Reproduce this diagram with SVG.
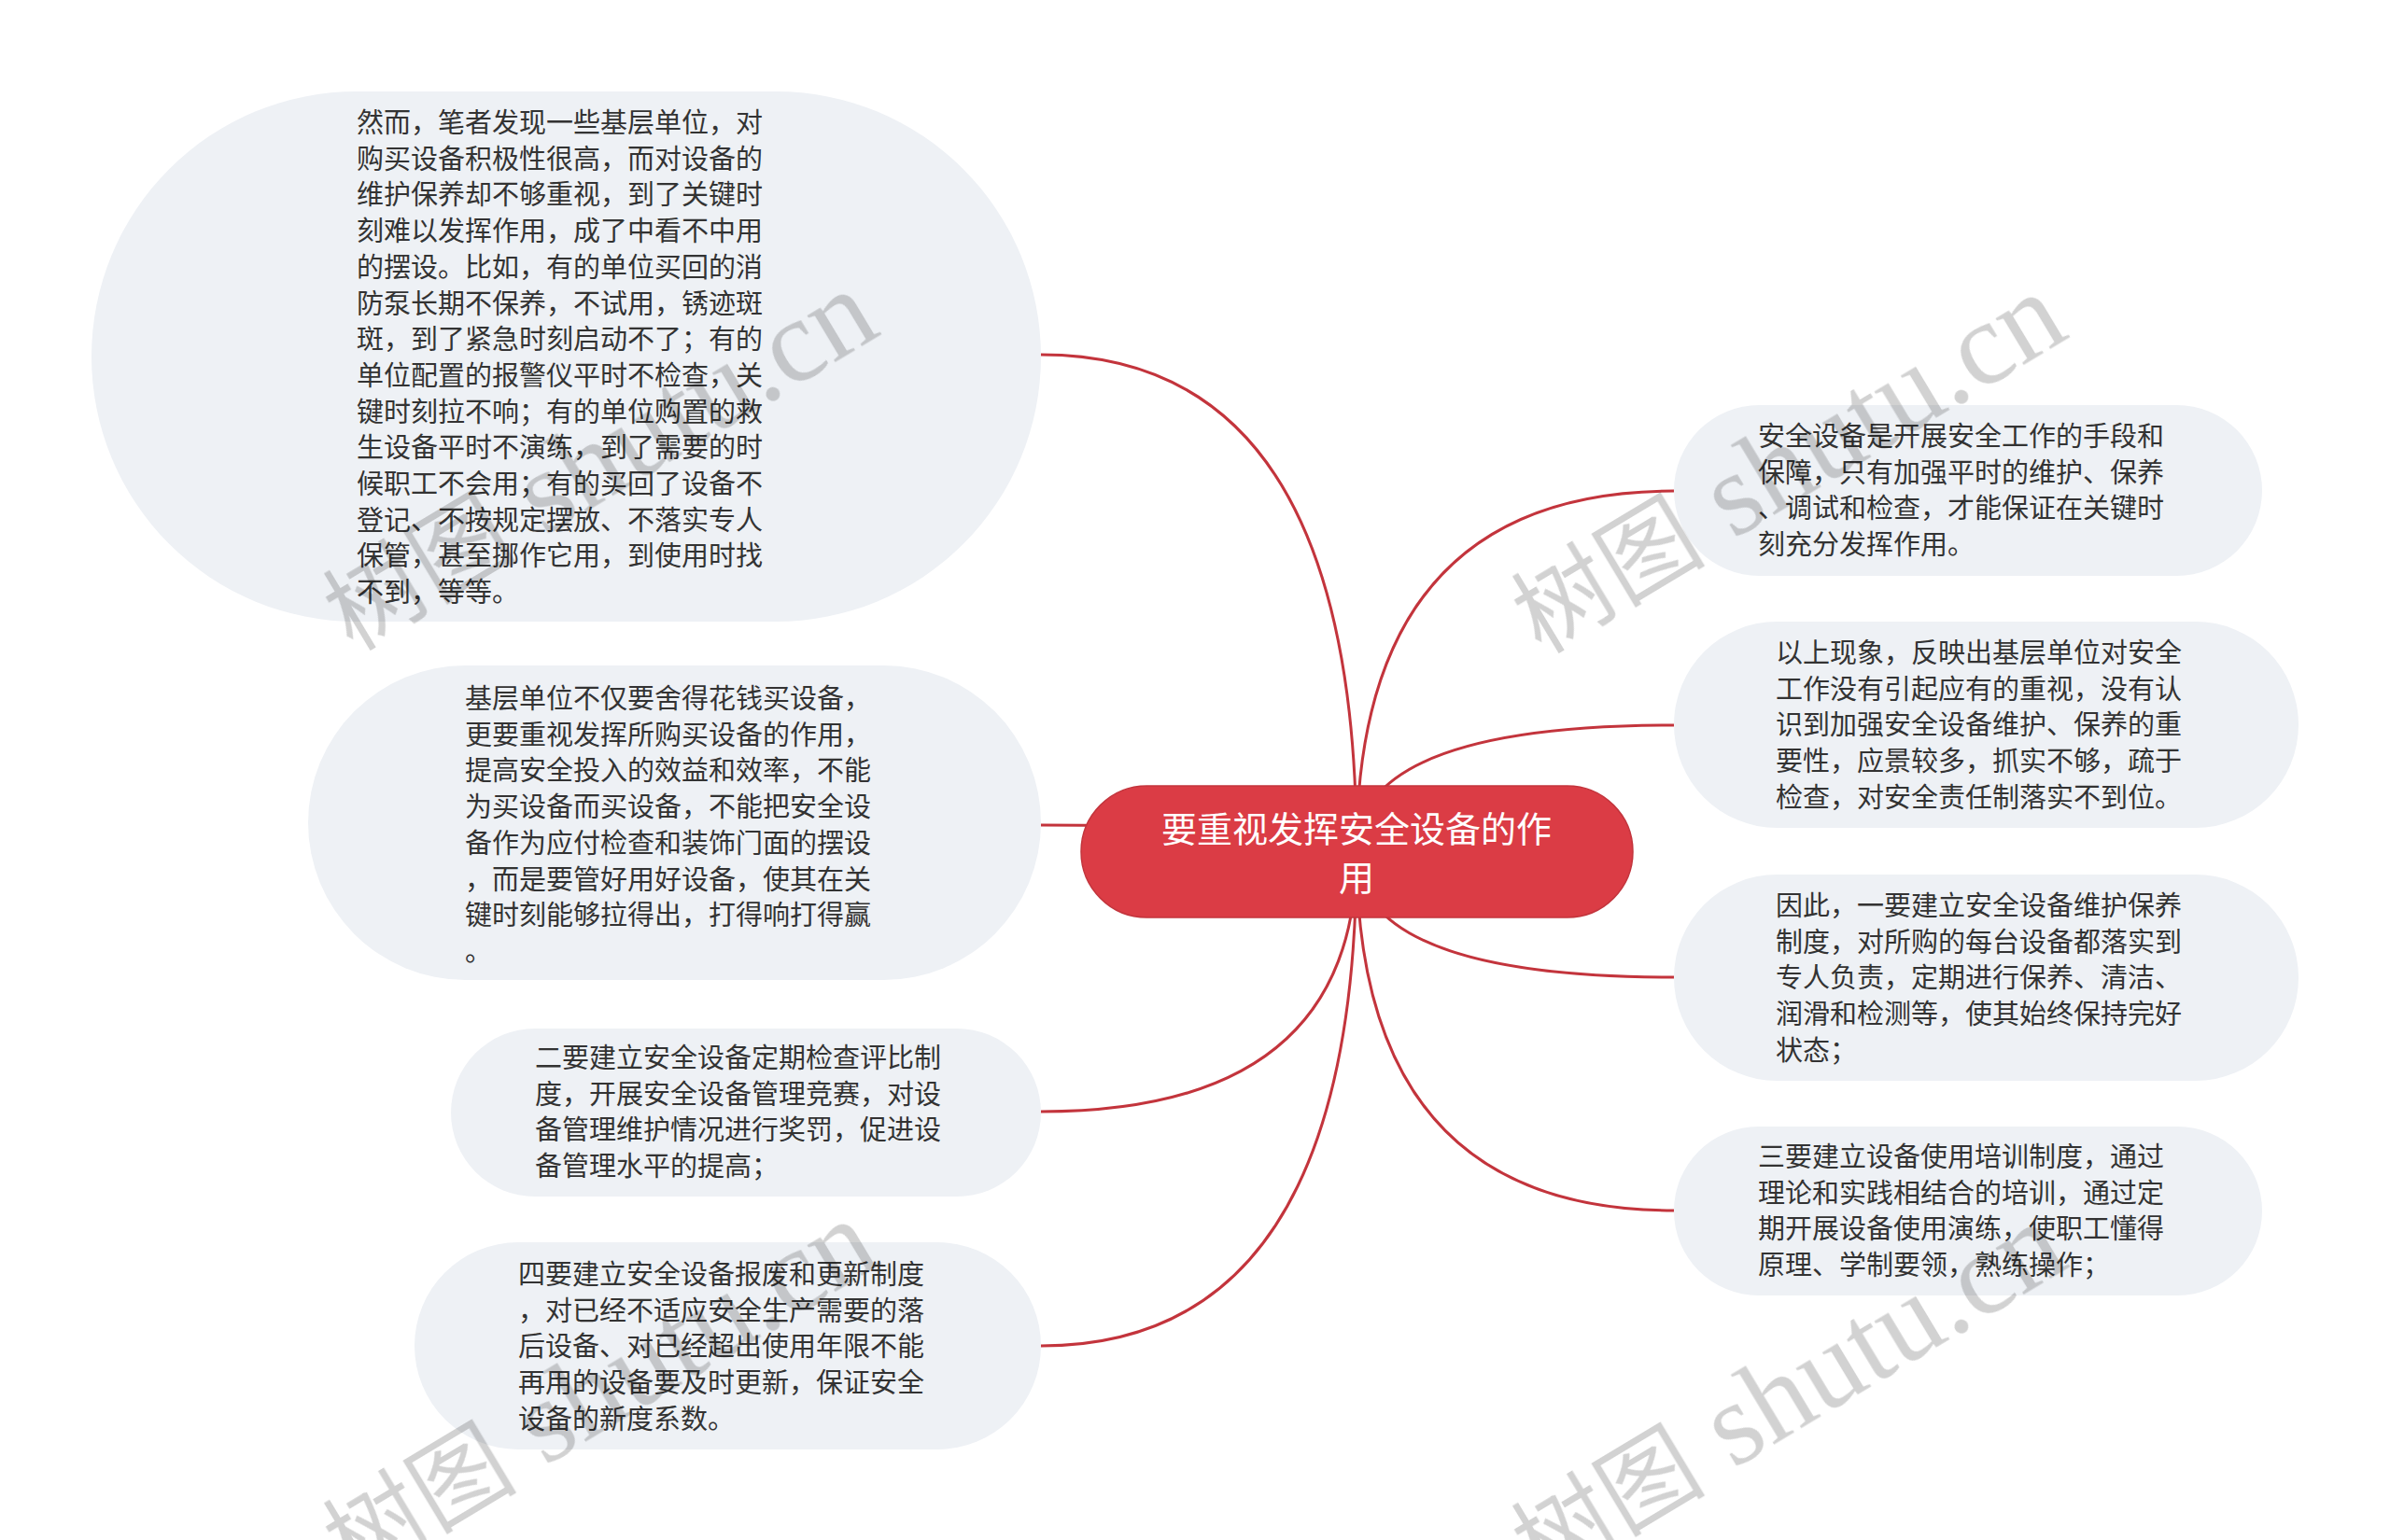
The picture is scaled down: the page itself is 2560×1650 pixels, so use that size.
<svg xmlns="http://www.w3.org/2000/svg" width="2560" height="1650" viewBox="0 0 2560 1650">
<style>
.bg{fill:#ffffff}
.node{fill:#eef1f5}
.root{fill:#db3c45;stroke:#c3343c;stroke-width:1.5}
.t{font-family:"Noto Sans CJK SC","Noto Sans",sans-serif;font-size:29px;fill:#333333}
.rt{font-family:"Noto Sans CJK SC","Noto Sans",sans-serif;font-size:38px;fill:#ffffff;text-anchor:middle}
.edge{fill:none;stroke:#c3343c;stroke-width:3}
.wm{fill:#000000;opacity:0.18}
.wmc{font-family:"Noto Sans CJK SC",sans-serif;font-size:104px}
.wml{font-family:"Liberation Serif",serif;font-size:126px}
</style>
<rect class="bg" x="0" y="0" width="2560" height="1650"/>
<g id="connectors">
<path class="edge" d="M1453 912 Q1453 380 1115 380"/>
<path class="edge" d="M1453 912 Q1453 884 1115 884"/>
<path class="edge" d="M1453 912 Q1453 1191 1115 1191"/>
<path class="edge" d="M1453 912 Q1453 1442 1115 1442"/>
<path class="edge" d="M1453 912 Q1453 526 1793 526"/>
<path class="edge" d="M1453 912 Q1453 777 1793 777"/>
<path class="edge" d="M1453 912 Q1453 1047 1793 1047"/>
<path class="edge" d="M1453 912 Q1453 1297 1793 1297"/>
</g>
<g id="root">
<rect class="root" x="1158" y="842" width="591" height="141" rx="70.5" ry="70.5"/>
<text class="rt" x="1453" y="902">要重视发挥安全设备的作</text>
<text class="rt" x="1453" y="954">用</text>
</g>
<g id="left1">
<rect class="node" x="98" y="98" width="1017" height="568" rx="284" ry="284"/>
<text class="t">
<tspan x="382" y="142">然而，笔者发现一些基层单位，对</tspan>
<tspan x="382" y="180.7">购买设备积极性很高，而对设备的</tspan>
<tspan x="382" y="219.4">维护保养却不够重视，到了关键时</tspan>
<tspan x="382" y="258.1">刻难以发挥作用，成了中看不中用</tspan>
<tspan x="382" y="296.8">的摆设。比如，有的单位买回的消</tspan>
<tspan x="382" y="335.5">防泵长期不保养，不试用，锈迹斑</tspan>
<tspan x="382" y="374.2">斑，到了紧急时刻启动不了；有的</tspan>
<tspan x="382" y="412.9">单位配置的报警仪平时不检查，关</tspan>
<tspan x="382" y="451.6">键时刻拉不响；有的单位购置的救</tspan>
<tspan x="382" y="490.3">生设备平时不演练，到了需要的时</tspan>
<tspan x="382" y="529">候职工不会用；有的买回了设备不</tspan>
<tspan x="382" y="567.7">登记、不按规定摆放、不落实专人</tspan>
<tspan x="382" y="606.4">保管，甚至挪作它用，到使用时找</tspan>
<tspan x="382" y="645.1">不到，等等。</tspan>
</text>
</g>
<g id="left2">
<rect class="node" x="330" y="713" width="785" height="337" rx="168.5" ry="168.5"/>
<text class="t">
<tspan x="498" y="759">基层单位不仅要舍得花钱买设备，</tspan>
<tspan x="498" y="797.7">更要重视发挥所购买设备的作用，</tspan>
<tspan x="498" y="836.4">提高安全投入的效益和效率，不能</tspan>
<tspan x="498" y="875.1">为买设备而买设备，不能把安全设</tspan>
<tspan x="498" y="913.8">备作为应付检查和装饰门面的摆设</tspan>
<tspan x="498" y="952.5">，而是要管好用好设备，使其在关</tspan>
<tspan x="498" y="991.2">键时刻能够拉得出，打得响打得赢</tspan>
<tspan x="498" y="1029.9">。</tspan>
</text>
</g>
<g id="left3">
<rect class="node" x="483" y="1102" width="632" height="180" rx="90" ry="90"/>
<text class="t">
<tspan x="573" y="1144">二要建立安全设备定期检查评比制</tspan>
<tspan x="573" y="1182.7">度，开展安全设备管理竞赛，对设</tspan>
<tspan x="573" y="1221.4">备管理维护情况进行奖罚，促进设</tspan>
<tspan x="573" y="1260.1">备管理水平的提高；</tspan>
</text>
</g>
<g id="left4">
<rect class="node" x="444" y="1331" width="671" height="222" rx="111" ry="111"/>
<text class="t">
<tspan x="555" y="1376">四要建立安全设备报废和更新制度</tspan>
<tspan x="555" y="1414.7">，对已经不适应安全生产需要的落</tspan>
<tspan x="555" y="1453.4">后设备、对已经超出使用年限不能</tspan>
<tspan x="555" y="1492.1">再用的设备要及时更新，保证安全</tspan>
<tspan x="555" y="1530.8">设备的新度系数。</tspan>
</text>
</g>
<g id="right1">
<rect class="node" x="1793" y="434" width="630" height="183" rx="91.5" ry="91.5"/>
<text class="t">
<tspan x="1883" y="478">安全设备是开展安全工作的手段和</tspan>
<tspan x="1883" y="516.7">保障，只有加强平时的维护、保养</tspan>
<tspan x="1883" y="555.4">、调试和检查，才能保证在关键时</tspan>
<tspan x="1883" y="594.1">刻充分发挥作用。</tspan>
</text>
</g>
<g id="right2">
<rect class="node" x="1793" y="666" width="669" height="221" rx="110.5" ry="110.5"/>
<text class="t">
<tspan x="1902" y="710">以上现象，反映出基层单位对安全</tspan>
<tspan x="1902" y="748.7">工作没有引起应有的重视，没有认</tspan>
<tspan x="1902" y="787.4">识到加强安全设备维护、保养的重</tspan>
<tspan x="1902" y="826.1">要性，应景较多，抓实不够，疏于</tspan>
<tspan x="1902" y="864.8">检查，对安全责任制落实不到位。</tspan>
</text>
</g>
<g id="right3">
<rect class="node" x="1793" y="937" width="669" height="221" rx="110.5" ry="110.5"/>
<text class="t">
<tspan x="1902" y="981">因此，一要建立安全设备维护保养</tspan>
<tspan x="1902" y="1019.7">制度，对所购的每台设备都落实到</tspan>
<tspan x="1902" y="1058.4">专人负责，定期进行保养、清洁、</tspan>
<tspan x="1902" y="1097.1">润滑和检测等，使其始终保持完好</tspan>
<tspan x="1902" y="1135.8">状态；</tspan>
</text>
</g>
<g id="right4">
<rect class="node" x="1793" y="1207" width="630" height="181" rx="90.5" ry="90.5"/>
<text class="t">
<tspan x="1883" y="1250">三要建立设备使用培训制度，通过</tspan>
<tspan x="1883" y="1288.7">理论和实践相结合的培训，通过定</tspan>
<tspan x="1883" y="1327.4">期开展设备使用演练，使职工懂得</tspan>
<tspan x="1883" y="1366.1">原理、学制要领，熟练操作；</tspan>
</text>
</g>
<g id="watermarks" class="wm">
<text transform="translate(378 699) rotate(-31)"><tspan class="wmc">树图</tspan><tspan class="wml"> shutu.cn</tspan></text>
<text transform="translate(1651 702) rotate(-31)"><tspan class="wmc">树图</tspan><tspan class="wml"> shutu.cn</tspan></text>
<text transform="translate(378 1695) rotate(-31)"><tspan class="wmc">树图</tspan><tspan class="wml"> shutu.cn</tspan></text>
<text transform="translate(1651 1698) rotate(-31)"><tspan class="wmc">树图</tspan><tspan class="wml"> shutu.cn</tspan></text>
</g>
</svg>
